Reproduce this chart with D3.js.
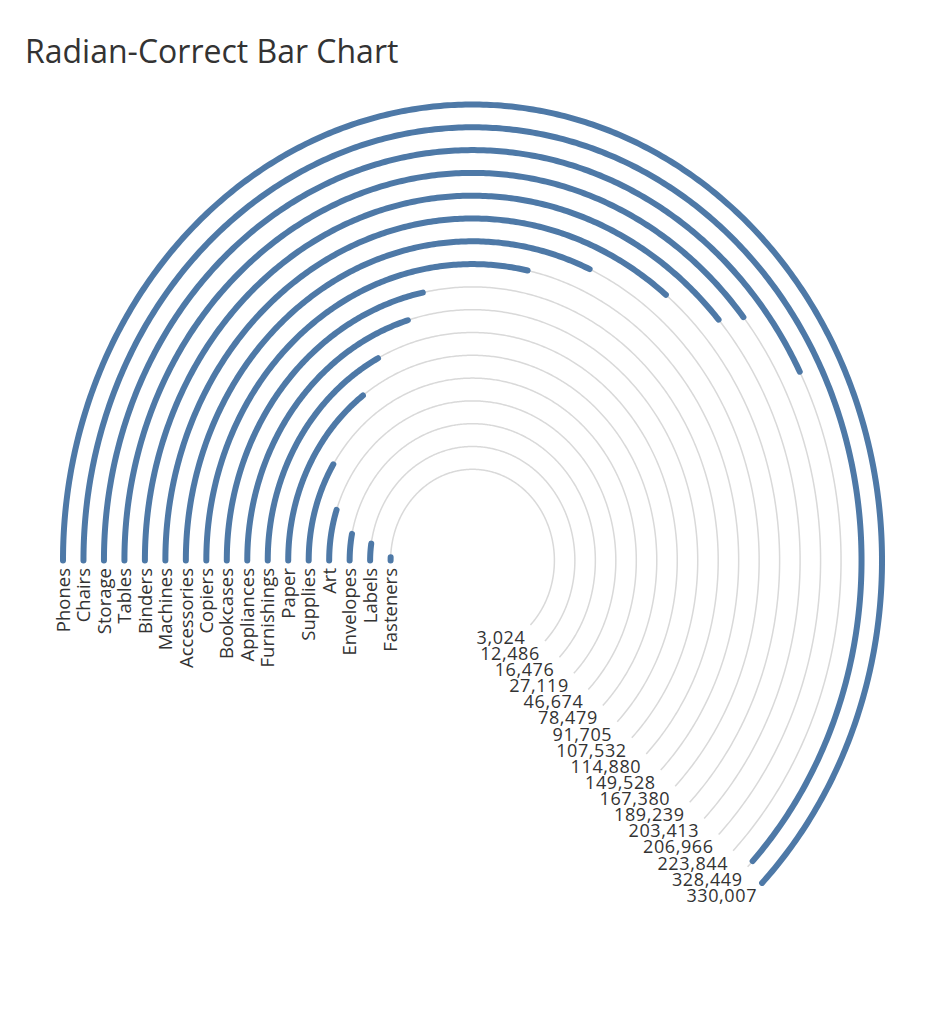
<!DOCTYPE html>
<html>
<head>
<meta charset="utf-8">
<title>Radian-Correct Bar Chart</title>
<style>
  body { margin: 0; background: #fff; }
  text { font-family: "Open Sans", sans-serif; fill: #333; }
  .ring { fill: none; stroke: #d9d9d9; stroke-width: 1.5px; }
  .bar { fill: none; stroke: #4e79a7; stroke-width: 6px; stroke-linecap: round; }
</style>
<script src="https://cdnjs.cloudflare.com/ajax/libs/d3/7.8.5/d3.min.js"></script>
</head>
<body>
<div id="chart"></div>
<script>
// sub-categories, outermost ring first
const categories = ["Phones", "Chairs", "Storage", "Tables", "Binders", "Machines", "Accessories",
  "Copiers", "Bookcases", "Appliances", "Furnishings", "Paper", "Supplies", "Art",
  "Envelopes", "Labels", "Fasteners"];
const sales = [330007, 328449, 223844, 206966, 203413, 189239, 167380,
  149528, 114880, 107532, 91705, 78479, 46674, 27119,
  16476, 12486, 3024];

const w = 945, h = 1024;
const cx = 472.5, cy = 560.5;
const rxMax = 409.5, ryMax = 456;

const data = categories.map((c, i) => ({ name: c, value: sales[i] }));

const svg = d3.select("#chart").append("svg")
  .attr("width", w)
  .attr("height", h);

svg.append("text")
  .attr("x", 25)
  .attr("y", 63)
  .style("font-size", "32px")
  .text("Radian-Correct Bar Chart");

// ring radius in data units: outer ring 20, inner ring 4
const ring = d3.scalePoint().domain(categories).range([20, 4]);
// angle swept clockwise from 9 o'clock
const angle = d3.scaleLinear().domain([0, d3.max(sales)]).range([0, 1.25 * Math.PI]);
// the plot is stretched vertically, like the source view
const x = d3.scaleLinear().domain([-20, 20]).range([cx - rxMax, cx + rxMax]);
const y = d3.scaleLinear().domain([-20, 20]).range([cy + ryMax, cy - ryMax]);

const line = d3.line()
  .x(p => x(-p.r * Math.cos(p.a)))
  .y(p => y(p.r * Math.sin(p.a)));

function arcPoints(r, value) {
  const end = angle(value);
  const n = Math.max(2, Math.ceil(end / (Math.PI / 360)));
  return d3.range(n + 1).map(k => ({ r: r, a: end * k / n }));
}

svg.append("g")
  .selectAll("path")
  .data(data)
  .join("path")
    .attr("class", "ring")
    .attr("d", d => line(arcPoints(ring(d.name), d3.max(sales))));

svg.append("g")
  .selectAll("path")
  .data(data)
  .join("path")
    .attr("class", "bar")
    .attr("d", d => line(arcPoints(ring(d.name), d.value)));

// category labels under the start of each bar
svg.append("g")
  .selectAll("text")
  .data(data)
  .join("text")
    .attr("transform", d => `translate(${x(-ring(d.name))},568) rotate(-90)`)
    .attr("text-anchor", "end")
    .attr("dy", "0.36em")
    .style("font-size", "18.5px")
    .text(d => d.name);

// value labels at the end of each grey ring
const endA = angle(d3.max(sales));
svg.append("g")
  .selectAll("text")
  .data(data)
  .join("text")
    .attr("x", d => x(-ring(d.name) * Math.cos(endA)) - 5)
    .attr("y", d => y(ring(d.name) * Math.sin(endA)) + 14)
    .attr("text-anchor", "end")
    .attr("dominant-baseline", "middle")
    .style("font-size", "18px")
    .style("letter-spacing", "0.6px")
    .text(d => d3.format(",")(d.value));
</script>
</body>
</html>
